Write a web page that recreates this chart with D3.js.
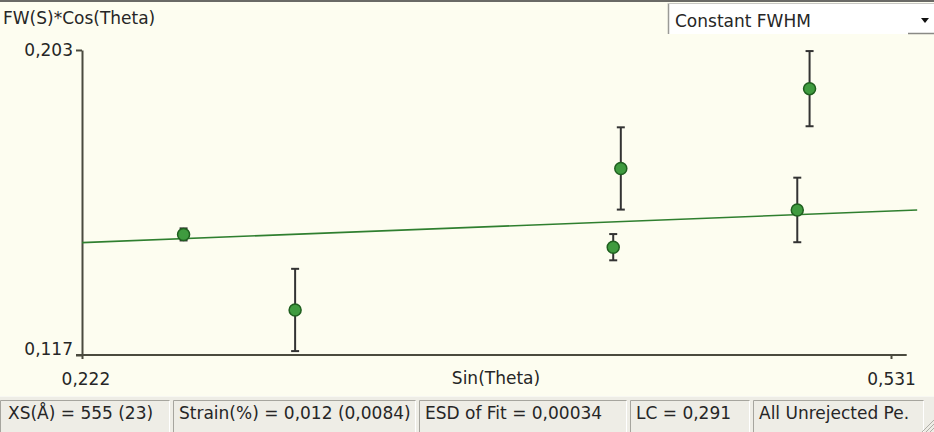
<!DOCTYPE html>
<meta charset="utf-8">
<head>
	<title>Size / Strain plot</title>
	<style>
		body { margin: 0; background: #fdfdf0; overflow: hidden; }
		svg { display: block; font-family: "DejaVu Sans", sans-serif; font-size: 17px; }
		.lbl { fill: #262626; }
		.axis path, .axis line { stroke: #4a4a3e; stroke-width: 2; }
		.axis text { fill: #262626; font-size: 17px; font-family: "DejaVu Sans", sans-serif; }
		.err { stroke: #333; stroke-width: 2; }
		.pt { fill: #3f9b3f; stroke: #1f5f1f; stroke-width: 1.5; }
		.fit { stroke: #2f7f2f; stroke-width: 1.6; fill: none; }
	</style>
	<script src="https://d3js.org/d3.v7.min.js"></script>
</head>
<body>
<script>
	const W = 934, H = 432;

	// points (x = sin(theta), y = FW(S)*cos(theta), e = error half height)
	const sinTheta = [0.2608, 0.3034, 0.4249, 0.4278, 0.4952, 0.4999];
	const fwCos    = [0.1510, 0.1297, 0.1474, 0.1696, 0.1579, 0.1921];
	const errBar   = [0.0017, 0.0116, 0.0037, 0.0116, 0.0091, 0.0106];

	// fitted line end points
	const fitX = [0.222, 0.541];
	const fitY = [0.1487, 0.1579];

	const xTicks = [0.222, 0.531];
	const yTicks = [0.117, 0.203];
	const xAxisEnd = 0.537;

	const statusTexts = ['XS(Å) = 555 (23)', 'Strain(%) = 0,012 (0,0084)', 'ESD of Fit = 0,00034', 'LC = 0,291', 'All Unrejected Pe.'];
	const statusEdges = [0, 170, 416, 627, 750, 924];

	const fmt = d => d3.format('.3f')(d).replace('.', ',');

	const svg = d3.select('body').append('svg').attr('width', W).attr('height', H);

	const x = d3.scaleLinear().domain(xTicks).range([82, 891]);
	const y = d3.scaleLinear().domain(yTicks).range([355, 50]);

	// top edge shade
	svg.append('rect').attr('x', 0).attr('y', 0).attr('width', W).attr('height', 2).attr('fill', '#6a6a66');

	// axis labels
	svg.append('text').attr('class', 'lbl').attr('x', 3).attr('y', 24).text('FW(S)*Cos(Theta)');
	svg.append('text').attr('class', 'lbl').attr('x', 496).attr('y', 384).attr('text-anchor', 'middle').text('Sin(Theta)');

	// y axis
	const gy = svg.append('g').attr('class', 'axis').attr('transform', 'translate(82,0)')
		.call(d3.axisLeft(y).tickValues(yTicks).tickFormat(fmt).tickSize(6).tickSizeOuter(0).tickPadding(8));
	gy.selectAll('.tick text').attr('dy', (d, i) => i === 0 ? '-0.05em' : '0.3em').attr('x', -9);

	// x axis
	const gx = svg.append('g').attr('class', 'axis').attr('transform', 'translate(0,355)');
	gx.call(d3.axisBottom(x).tickValues(xTicks).tickFormat(fmt).tickSize(4).tickSizeOuter(0).tickPadding(14));
	gx.select('.domain').remove();
	gx.append('line').attr('x1', x(xTicks[0]) - 6).attr('x2', x(xAxisEnd)).attr('y1', 0).attr('y2', 0)
		.attr('stroke', '#4a4a3e').attr('stroke-width', 2);
	gx.selectAll('.tick text').attr('dx', (d, i) => i === 0 ? '0.2em' : '0');

	// fit line
	svg.append('path').attr('class', 'fit')
		.attr('d', d3.line().x(d => x(d[0])).y(d => y(d[1]))(d3.zip(fitX, fitY)));

	const pts = d3.range(sinTheta.length).map(i => ({ sx: sinTheta[i], v: fwCos[i], e: errBar[i] }));

	// error bars
	const eb = svg.append('g').selectAll('g').data(pts).join('g');
	eb.append('line').attr('class', 'err')
		.attr('x1', d => x(d.sx)).attr('x2', d => x(d.sx))
		.attr('y1', d => y(d.v + d.e)).attr('y2', d => y(d.v - d.e));
	eb.selectAll('.cap').data(d => [[d.sx, d.v + d.e], [d.sx, d.v - d.e]]).join('line').attr('class', 'err cap')
		.attr('x1', d => x(d[0]) - 4).attr('x2', d => x(d[0]) + 4)
		.attr('y1', d => y(d[1])).attr('y2', d => y(d[1]));

	// points
	svg.append('g').selectAll('circle').data(pts).join('circle').attr('class', 'pt')
		.attr('cx', d => x(d.sx)).attr('cy', d => y(d.v)).attr('r', 6);

	// combo box
	const cb = svg.append('g');
	cb.append('rect').attr('x', 668).attr('y', 3).attr('width', 266).attr('height', 31).attr('fill', '#fff');
	cb.append('line').attr('x1', 668.5).attr('x2', 668.5).attr('y1', 3).attr('y2', 34).attr('stroke', '#9a9a96').attr('stroke-width', 1.5);
	cb.append('line').attr('x1', 668).attr('x2', 934).attr('y1', 3.5).attr('y2', 3.5).attr('stroke', '#c8c8c4');
	cb.append('line').attr('x1', 908).attr('x2', 934).attr('y1', 33.5).attr('y2', 33.5).attr('stroke', '#8a8a86').attr('stroke-width', 1.5);
	cb.append('text').attr('class', 'lbl').attr('x', 675).attr('y', 27).text('Constant FWHM');
	cb.append('path').attr('d', 'M921,18 L929,18 L925,23 Z').attr('fill', '#111');

	// status bar
	const sb = svg.append('g');
	sb.append('rect').attr('x', 0).attr('y', 396).attr('width', W).attr('height', H - 396).attr('fill', '#eeede6');
	sb.append('line').attr('x1', 0).attr('x2', W).attr('y1', 396.5).attr('y2', 396.5).attr('stroke', '#f8f8f2');
	statusTexts.forEach((t, i) => {
		const x0 = statusEdges[i] + (i === 0 ? 0 : 3), x1 = statusEdges[i + 1];
		sb.append('path').attr('d', `M${x0 + 0.5},${H} V400.5 H${x1 - 0.5}`).attr('fill', 'none').attr('stroke', '#a6a59e');
		sb.append('line').attr('x1', x1 - 0.5).attr('x2', x1 - 0.5).attr('y1', 401).attr('y2', H).attr('stroke', '#fff');
		sb.append('text').attr('class', 'lbl').attr('x', x0 + (i === 0 ? 8 : 6)).attr('y', 419).text(t);
	});
	// resize grip
	sb.selectAll('.grip').data([0, 1, 2]).join('line').attr('class', 'grip')
		.attr('x1', d => 930 - d * 4).attr('y1', H).attr('x2', W).attr('y2', d => H - 4 - d * 4)
		.attr('stroke', '#b0afa8');
</script>
</body>
